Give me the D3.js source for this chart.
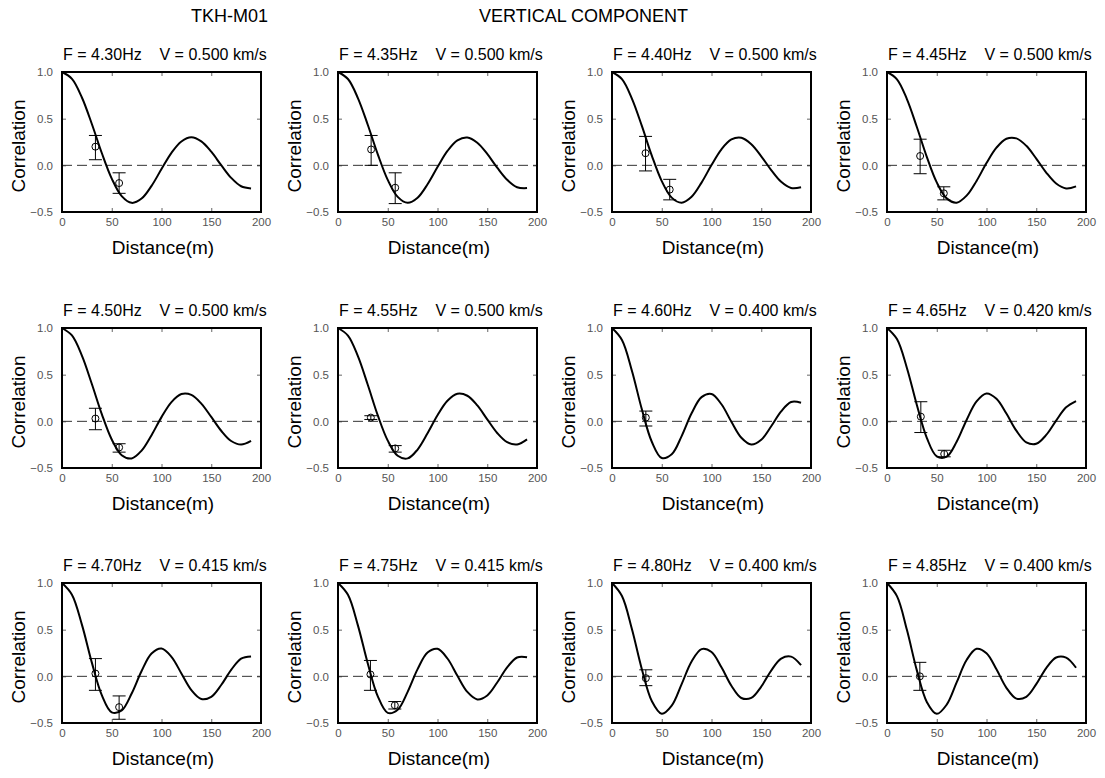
<!DOCTYPE html>
<html><head><meta charset="utf-8">
<script src="https://cdn.jsdelivr.net/npm/d3@7"></script>
<style>
body{margin:0;background:#fff}
text{font-family:"Liberation Sans",Arial,sans-serif}
</style>
</head><body>
<svg id="chart" width="1105" height="778"></svg>
<script>
const stationName = "TKH-M01";
const componentName = "VERTICAL COMPONENT";
const freqLabels = ["4.30","4.35","4.40","4.45","4.50","4.55","4.60","4.65","4.70","4.75","4.80","4.85"];
const velLabels  = ["0.500","0.500","0.500","0.500","0.500","0.500","0.400","0.420","0.415","0.415","0.400","0.400"];
const xTicks = [0,50,100,150,200];
const yTicks = [-0.5,0.0,0.5,1.0];
const distances = [0,10,20,30,40,50,60,70,80,90,100,110,120,130,140,150,160,170,180,190];

const curveP1  = [1.000,0.927,0.727,0.443,0.132,-0.142,-0.330,-0.402,-0.356,-0.220,-0.040,0.134,0.256,0.300,0.256,0.146,0.002,-0.134,-0.224,-0.247];
const curveP2  = [1.000,0.925,0.721,0.432,0.118,-0.156,-0.338,-0.402,-0.347,-0.203,-0.019,0.154,0.268,0.298,0.242,0.122,-0.025,-0.155,-0.235,-0.244];
const curveP3  = [1.000,0.923,0.715,0.422,0.104,-0.169,-0.346,-0.401,-0.337,-0.185,0.003,0.172,0.277,0.295,0.226,0.097,-0.051,-0.177,-0.243,-0.235];
const curveP4  = [1.000,0.922,0.710,0.411,0.091,-0.183,-0.354,-0.400,-0.325,-0.167,0.024,0.189,0.285,0.289,0.209,0.072,-0.077,-0.194,-0.247,-0.225];
const curveP5  = [1.000,0.920,0.704,0.400,0.077,-0.195,-0.363,-0.398,-0.314,-0.148,0.045,0.206,0.292,0.283,0.190,0.047,-0.101,-0.211,-0.249,-0.210];
const curveP6  = [1.000,0.919,0.698,0.389,0.063,-0.207,-0.369,-0.397,-0.302,-0.128,0.065,0.220,0.295,0.274,0.170,0.021,-0.125,-0.223,-0.247,-0.193];
const curveP7  = [1.000,0.872,0.542,0.129,-0.219,-0.393,-0.353,-0.158,0.086,0.259,0.293,0.183,-0.005,-0.176,-0.248,-0.197,-0.053,0.107,0.207,0.200];
const curveP8  = [1.000,0.881,0.572,0.175,-0.177,-0.375,-0.379,-0.219,0.015,0.214,0.299,0.242,0.083,-0.100,-0.225,-0.241,-0.146,0.008,0.150,0.217];
const curveP9  = [1.000,0.875,0.554,0.147,-0.202,-0.386,-0.365,-0.184,0.057,0.244,0.297,0.209,0.031,-0.147,-0.243,-0.219,-0.093,0.069,0.190,0.213];
const curveP10 = [1.000,0.873,0.546,0.135,-0.214,-0.391,-0.357,-0.166,0.077,0.255,0.295,0.191,0.006,-0.167,-0.247,-0.205,-0.066,0.096,0.202,0.205];
const curveP11 = [1.000,0.861,0.507,0.077,-0.265,-0.401,-0.314,-0.083,0.159,0.292,0.260,0.097,-0.101,-0.232,-0.231,-0.110,0.062,0.190,0.211,0.119];
const curveP12 = [1.000,0.859,0.498,0.064,-0.274,-0.402,-0.303,-0.065,0.175,0.295,0.248,0.075,-0.123,-0.239,-0.220,-0.084,0.088,0.202,0.201,0.092];
const curves = [curveP1,curveP2,curveP3,curveP4,curveP5,curveP6,curveP7,curveP8,curveP9,curveP10,curveP11,curveP12];

// observed SPAC coefficients: distance, value, lower and upper error bound
const obsDist = [[33.6,57.4],[33.3,57.5],[33.7,58.0],[33.3,57.1],[33.6,57.4],[33.0,57.5],[34.0],[34.0,57.5],[33.6,57.4],[32.6,57.1],[34.0],[33.0]];
const obsCorr = [[0.20,-0.19],[0.17,-0.24],[0.13,-0.26],[0.10,-0.30],[0.03,-0.28],[0.04,-0.29],[0.04],[0.05,-0.35],[0.03,-0.33],[0.02,-0.31],[-0.02],[0.00]];
const obsLow  = [[0.06,-0.30],[0.00,-0.41],[-0.06,-0.37],[-0.09,-0.37],[-0.09,-0.33],[0.02,-0.33],[-0.05],[-0.12,-0.38],[-0.15,-0.46],[-0.15,-0.35],[-0.10],[-0.15]];
const obsHigh = [[0.32,-0.08],[0.32,-0.08],[0.31,-0.15],[0.28,-0.23],[0.14,-0.24],[0.06,-0.26],[0.11],[0.21,-0.31],[0.19,-0.21],[0.17,-0.27],[0.07],[0.15]];

const colLeft = [62,338,612,887];
const rowTop = [72,328,583];
const W = 199, H = 140;

const svg = d3.select("#chart");
svg.append("rect").attr("width",1105).attr("height",778).attr("fill","#fff");

svg.append("text").attr("x",191).attr("y",22).attr("font-size",18).attr("fill","#000").text(stationName);
svg.append("text").attr("x",479).attr("y",22).attr("font-size",18).attr("fill","#000").text(componentName);

const x = d3.scaleLinear().domain([0,200]).range([0,W]);
const y = d3.scaleLinear().domain([-0.5,1]).range([H,0]);

curves.forEach((vals,i) => {
  const g = svg.append("g").attr("transform",`translate(${colLeft[i%4]},${rowTop[Math.floor(i/4)]})`);

  // axes with inward ticks
  const ax = g.append("g").attr("transform",`translate(0,${H})`)
    .call(d3.axisBottom(x).tickValues(xTicks).tickSizeInner(-4).tickSizeOuter(0).tickPadding(6).tickFormat(d3.format("d")));
  const ay = g.append("g")
    .call(d3.axisLeft(y).tickValues(yTicks).tickSizeInner(-4).tickSizeOuter(0).tickPadding(9).tickFormat(d3.format(".1f")));
  const at = g.append("g").call(d3.axisTop(x).tickValues(xTicks).tickSizeInner(-4).tickSizeOuter(0).tickFormat(""));
  const ar = g.append("g").attr("transform",`translate(${W},0)`)
    .call(d3.axisRight(y).tickValues(yTicks).tickSizeInner(-4).tickSizeOuter(0).tickFormat(""));
  [ax,ay,at,ar].forEach(a => {
    a.select(".domain").remove();
    a.selectAll(".tick line").attr("stroke","#666").attr("stroke-width",1);
    a.selectAll(".tick text").attr("fill","#555").attr("font-size",11.5)
      .attr("font-family",'"Liberation Sans",Arial,sans-serif');
  });

  // zero dashed line
  g.append("line").attr("x1",x(0)).attr("x2",x(200)).attr("y1",y(0)).attr("y2",y(0))
    .attr("stroke","#333").attr("stroke-width",1).attr("stroke-dasharray","10,5");

  // theoretical curve
  const pts = distances.map((d,j) => [d, vals[j]]);
  g.append("path").datum(pts)
    .attr("d", d3.line().x(d=>x(d[0])).y(d=>y(d[1])).curve(d3.curveCatmullRom.alpha(0.5)))
    .attr("fill","none").attr("stroke","#000").attr("stroke-width",2);

  // observed points with error bars
  obsDist[i].forEach((r,j) => {
    const cx = x(r);
    g.append("line").attr("x1",cx).attr("x2",cx).attr("y1",y(obsLow[i][j])).attr("y2",y(obsHigh[i][j]))
      .attr("stroke","#000").attr("stroke-width",1);
    [obsLow[i][j],obsHigh[i][j]].forEach(v => {
      g.append("line").attr("x1",cx-6.5).attr("x2",cx+6.5).attr("y1",y(v)).attr("y2",y(v))
        .attr("stroke","#000").attr("stroke-width",1);
    });
    g.append("circle").attr("cx",cx).attr("cy",y(obsCorr[i][j])).attr("r",3.5)
      .attr("fill","none").attr("stroke","#000").attr("stroke-width",1);
  });

  // frame
  g.append("rect").attr("x",0).attr("y",0).attr("width",W).attr("height",H)
    .attr("fill","none").attr("stroke","#000").attr("stroke-width",2);

  // titles
  g.append("text").attr("x",1).attr("y",-12.5).attr("font-size",16).attr("fill","#000")
    .style("white-space","pre")
    .text(`F = ${freqLabels[i]}Hz    V = ${velLabels[i]} km/s`);
  g.append("text").attr("x",W/2+1.5).attr("y",H+42).attr("font-size",19).attr("text-anchor","middle")
    .attr("fill","#000").text("Distance(m)");
  g.append("text").attr("transform",`translate(-37,${H/2+4}) rotate(-90)`).attr("font-size",19)
    .attr("text-anchor","middle").attr("fill","#000").text("Correlation");
});
</script>
</body></html>
